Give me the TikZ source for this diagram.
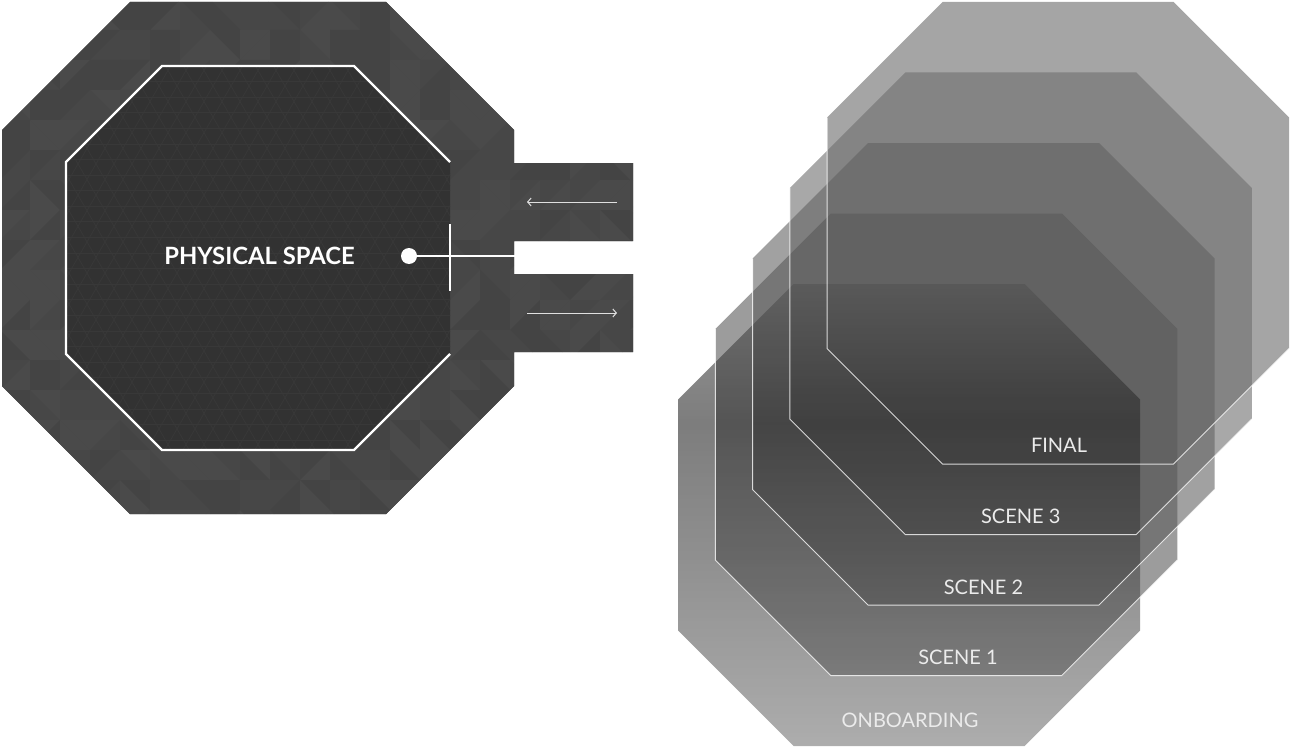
\documentclass[tikz,border=0pt]{standalone}
\usepackage{fontspec}
\setmainfont{Lato}
\usetikzlibrary{arrows.meta}
\definecolor{ringgray}{HTML}{474747}
\definecolor{ringa}{HTML}{444444}
\definecolor{ringb}{HTML}{4A4A4A}
\definecolor{innergray}{HTML}{323232}
\definecolor{innerline}{HTML}{383838}
\definecolor{lfinal}{RGB}{105,105,105}
\definecolor{lsthree}{RGB}{110,110,110}
\definecolor{lstwo}{RGB}{98,98,98}
\definecolor{lsone}{RGB}{90,90,90}
\definecolor{loblight}{RGB}{84,84,84}
\definecolor{lobdark}{RGB}{38,38,38}
\definecolor{lobmid}{RGB}{70,70,70}
\definecolor{lobbot}{RGB}{118,118,118}
\pgfdeclareverticalshading{obshade}{100bp}{color(0bp)=(lobbot); color(25bp)=(lobbot); color(45bp)=(lobmid); color(60bp)=(lobdark); color(75bp)=(loblight); color(100bp)=(loblight)}
\newcommand\octo[3]{({#1+#3/4},{#2}) -- ({#1+3*#3/4},{#2}) -- ({#1+#3},{#2+#3/4}) -- ({#1+#3},{#2+3*#3/4}) -- ({#1+3*#3/4},{#2+#3}) -- ({#1+#3/4},{#2+#3}) -- ({#1},{#2+3*#3/4}) -- ({#1},{#2+#3/4}) -- cycle}
\newcommand\octline[3]{({#1},{#2+#3/4}) -- ({#1},{#2+3*#3/4}) -- ({#1+#3/4},{#2+#3}) -- ({#1+3*#3/4},{#2+#3}) -- ({#1+#3},{#2+3*#3/4})}
\newcommand\ringpath{(130,2) -- (386,2) -- (514,130) -- (514,163) -- (633,163) -- (633,241) -- (514,241) -- (514,274) -- (633,274) -- (633,352) -- (514,352) -- (514,386) -- (386,514) -- (130,514) -- (2,386) -- (2,130) -- cycle}
\begin{document}
\begin{tikzpicture}[x=1bp,y=-1bp,
  layer/.style={fill opacity=0.6},
  edgeline/.style={draw=white,draw opacity=0.78,line width=1bp},
  scenelabel/.style={text=white!92!black,font=\fontsize{20bp}{22bp}\selectfont,inner sep=0pt,anchor=center},
  thinarrow/.style={draw=white!88!black,line width=1bp,-{Straight Barb[length=3.5bp,width=8bp]}},
  whitebar/.style={draw=white,line width=2.2bp}]
\useasboundingbox (0,0) rectangle (1291,747);
% ---------- left: physical space ----------
\begin{scope}
  \clip \ringpath;
  \fill[ringgray] (0,0) rectangle (640,520);
  \pgfmathsetseed{11}
  \foreach \i in {0,...,21}{
    \foreach \j in {0,...,17}{
      \pgfmathrandominteger{\ra}{0}{2}
      \pgfmathrandominteger{\rb}{0}{2}
      \pgfmathrandominteger{\rc}{0}{1}
      \ifcase\ra\def\ca{ringa}\or\def\ca{ringgray}\else\def\ca{ringb}\fi
      \ifcase\rb\def\cb{ringa}\or\def\cb{ringgray}\else\def\cb{ringb}\fi
      \ifcase\rc
        \fill[\ca] ({\i*30},{\j*30}) -- ({\i*30+30},{\j*30}) -- ({\i*30},{\j*30+30}) -- cycle;
        \fill[\cb] ({\i*30+30},{\j*30}) -- ({\i*30+30},{\j*30+30}) -- ({\i*30},{\j*30+30}) -- cycle;
      \else
        \fill[\ca] ({\i*30},{\j*30}) -- ({\i*30+30},{\j*30}) -- ({\i*30+30},{\j*30+30}) -- cycle;
        \fill[\cb] ({\i*30},{\j*30}) -- ({\i*30+30},{\j*30+30}) -- ({\i*30},{\j*30+30}) -- cycle;
      \fi
    }
  }
\end{scope}
\begin{scope}
  \clip \octo{66}{66}{384};
  \fill[innergray] (60,60) rectangle (456,456);
  \foreach \k in {-30,...,30}{
    \draw[innerline,line width=0.8bp] ({\k*18},60) -- ++({400*0.57735},400);
    \draw[innerline,line width=0.8bp] ({\k*18+300},60) -- ++({-400*0.57735},400);
  }
  \foreach \k in {0,...,26}{
    \draw[innerline,line width=0.8bp] (60,{66+\k*15.588}) -- (456,{66+\k*15.588});
  }
\end{scope}
\draw[whitebar,line join=miter] (450,162) -- (354,66) -- (162,66) -- (66,162) -- (66,354) -- (162,450) -- (354,450) -- (450,354);
\node[text=white,font=\bfseries\fontsize{23.8bp}{27bp}\selectfont,inner sep=0pt] (ps) at (259.5,256) {PHYSICAL SPACE};
\node[circle,fill=white,minimum size=16bp,inner sep=0pt] (dot) at (409,256) {};
\coordinate (jn) at (515,256);
\coordinate (tka) at (450,224);
\coordinate (tkb) at (450,291);
\draw[whitebar] (dot.center) -- (jn);
\draw[whitebar] (tka) -- (tkb);
\coordinate (ina) at (617,202);
\coordinate (inb) at (527,202);
\coordinate (outa) at (527,313);
\coordinate (outb) at (617,313);
\draw[thinarrow] (ina) -- (inb);
\draw[thinarrow] (outa) -- (outb);
% ---------- right: stacked layers ----------
\fill[lfinal,layer] \octo{827}{2}{462};
\fill[lsthree,layer] \octo{789.75}{72.5}{462};
\fill[lstwo,layer] \octo{752.5}{143}{462};
\fill[lsone,layer] \octo{715.25}{213.5}{462};
\shade[shading=obshade,layer] \octo{678}{284}{462};
\draw[edgeline] \octline{827}{2}{462};
\draw[edgeline] \octline{789.75}{72.5}{462};
\draw[edgeline] \octline{752.5}{143}{462};
\draw[edgeline] \octline{715.25}{213.5}{462};
\node[scenelabel] (final) at (1059,445) {FINAL};
\node[scenelabel] (s3) at (1020.75,516) {SCENE 3};
\node[scenelabel] (s2) at (983.5,587) {SCENE 2};
\node[scenelabel] (s1) at (958,657) {SCENE 1};
\node[scenelabel] (ob) at (910,720) {ONBOARDING};
\end{tikzpicture}
\end{document}
